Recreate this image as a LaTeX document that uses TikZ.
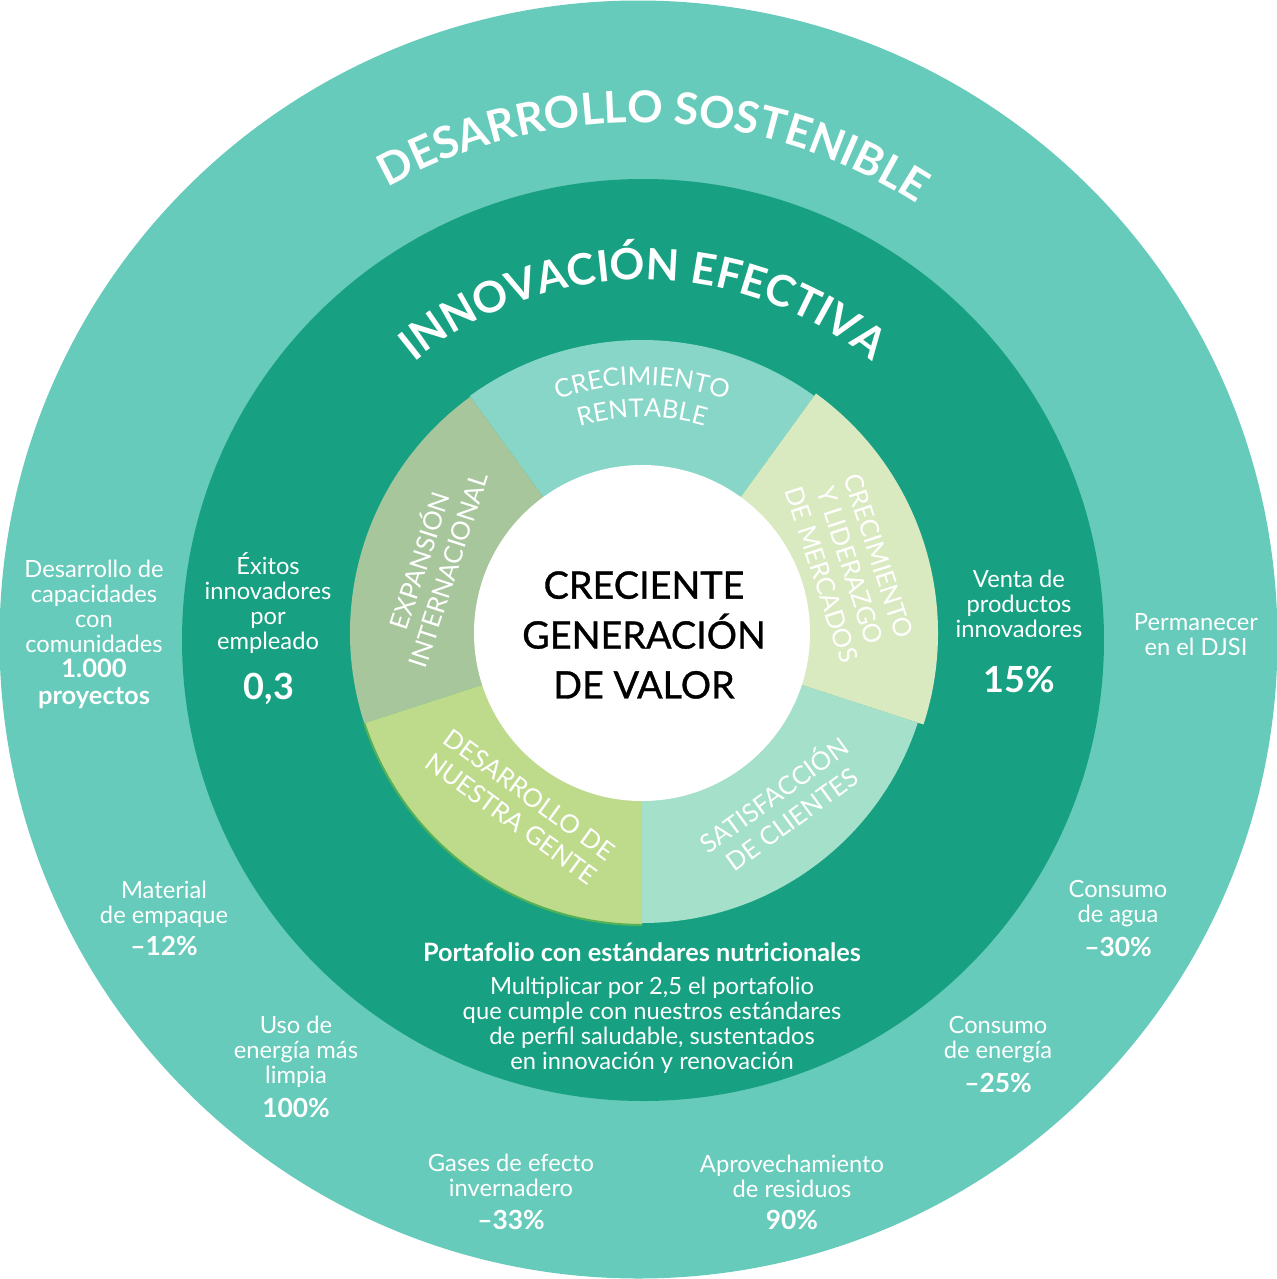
\documentclass[tikz,border=0pt]{standalone}
\usepackage{fontspec}
\setmainfont{Lato}
\newfontfamily\medfont{Lato}[FakeBold=0.9]
\usetikzlibrary{decorations.text}
\definecolor{outerc}{HTML}{66CBBA}
\definecolor{darkc}{HTML}{17A182}
\definecolor{rentc}{HTML}{87D6C8}
\definecolor{lidc}{HTML}{DAEAC0}
\definecolor{satc}{HTML}{A4E0CA}
\definecolor{desc}{HTML}{BEDB8C}
\definecolor{expc}{HTML}{A7C69C}
\definecolor{edgec}{HTML}{55B155}
\begin{document}
\begin{tikzpicture}[x=0.02cm,y=0.02cm,
  txt/.style={text=white,align=center,inner sep=0pt,font=\fontsize{13.5}{14.2}\selectfont},
  val/.style={text=white,align=center,inner sep=0pt,font=\bfseries\fontsize{15}{15.5}\selectfont},
  bigval/.style={text=white,align=center,inner sep=0pt,font=\bfseries\fontsize{20.5}{22}\selectfont},
  segtxt/.style={text=white,align=center,inner sep=0pt,font=\fontsize{14.5}{17}\selectfont}]
\useasboundingbox (0,0) rectangle (1277,-1279);
\coordinate (Co) at (638.5,-639.5);
\coordinate (Cd) at (643,-640);
\coordinate (Cr) at (642,-633);
% circles
\fill[outerc] (Co) circle[radius=639];
\fill[darkc] (Cd) circle[radius=461];
% ring wedges
\fill[rentc] (Cr) -- ([shift={(54:293)}]Cr) arc[start angle=54,end angle=126,radius=293] -- cycle;
\fill[expc] (Cr) -- ([shift={(126:292)}]Cr) arc[start angle=126,end angle=198,radius=292] -- cycle;
\fill[desc] (Cr) -- ([shift={(198:292)}]Cr) arc[start angle=198,end angle=270,radius=292] -- cycle;
\fill[satc] (Cr) -- ([shift={(270:290)}]Cr) arc[start angle=270,end angle=342,radius=290] -- cycle;
\fill[lidc] (Cr) -- ([shift={(-18:296)}]Cr) arc[start angle=-18,end angle=54,radius=296] -- cycle;
\draw[edgec,line width=1.2pt] ([shift={(198:292)}]Cr) arc[start angle=198,end angle=270,radius=292];
\fill[white] (Cr) circle[radius=168];
% center text
\node[align=center,inner sep=0pt,font=\medfont\fontsize{21.5}{28.4}\selectfont] (centro) at (644,-635) {CRECIENTE\\GENERACIÓN\\DE VALOR};
% arc titles
\path[decorate,decoration={text along path,text align=center,text color=white,
  text={|\bfseries\fontsize{25}{30}\selectfont|DESARROLLO SOSTENIBLE}}]
  ([shift={(148.2:517)}]Co) arc[start angle=148.2,end angle=28.2,radius=517];
\path[decorate,decoration={text along path,text align=center,text color=white,
  text={|\bfseries\fontsize{24.6}{28}\selectfont|INNOVACIÓN EFECTIVA}}]
  ([shift={(160:360)}]Cd) arc[start angle=160,end angle=20,radius=360];
% segment labels
\path[decorate,decoration={text along path,text align=center,text color=white,
  text={|\fontsize{14.5}{17}\selectfont|CRECIMIENTO}}]
  ([shift={(130:248)}]Cr) arc[start angle=130,end angle=50,radius=248];
\path[decorate,decoration={text along path,text align=center,text color=white,
  text={|\fontsize{14.5}{17}\selectfont|RENTABLE}}]
  ([shift={(130:216)}]Cr) arc[start angle=130,end angle=50,radius=216];
\node[segtxt,rotate=72] (exp) at ([shift={(162:221)}]Cr) {EXPANSIÓN\\INTERNACIONAL};
\node[segtxt,rotate=-72] (lid) at ([shift={(18:219)}]Cr) {CRECIMIENTO\\Y LIDERAZGO\\DE MERCADOS};
\node[segtxt,rotate=36] (sat) at ([shift={(-51:222)}]Cr) {SATISFACCIÓN\\DE CLIENTES};
\node[segtxt,rotate=-36] (des) at ([shift={(-125:212)}]Cr) {DESARROLLO DE\\NUESTRA GENTE};
% dark circle texts
\node[txt] (exi) at (268,-603) {Éxitos\\innovadores\\por\\empleado};
\node[bigval] (exiv) at (269,-689) {0,3};
\node[txt] (ven) at (1019,-604) {Venta de\\productos\\innovadores};
\node[bigval] (venv) at (1019,-679) {15\%};
\node[val,font=\bfseries\fontsize{14.4}{15}\selectfont] (port) at (642,-952) {Portafolio con estándares nutricionales};
\node[txt] (mult) at (652,-1025) {Multiplicar por 2,5 el portafolio\\que cumple con nuestros estándares\\de perfil saludable, sustentados\\en innovación y renovación};
% outer ring texts
\node[txt] (comu) at (94,-606) {Desarrollo de\\capacidades\\con\\comunidades};
\node[val,font=\bfseries\fontsize{14.5}{15.4}\selectfont] (comuv) at (94,-684) {1.000\\proyectos};
\node[txt] (djsi) at (1196,-635) {Permanecer\\en el DJSI};
\node[txt] (mat) at (164,-904) {Material\\de empaque};
\node[val] (matv) at (164,-946) {–12\%};
\node[txt] (uso) at (296,-1052) {Uso de\\energía más\\limpia};
\node[val] (usov) at (296,-1108) {100\%};
\node[txt] (gas) at (511,-1175) {Gases de efecto\\invernadero};
\node[val] (gasv) at (511,-1220) {–33\%};
\node[txt] (apr) at (792,-1176) {Aprovechamiento\\de residuos};
\node[val] (aprv) at (792,-1220) {90\%};
\node[txt] (ene) at (998,-1040) {Consumo\\de energía};
\node[val] (enev) at (998,-1083) {–25\%};
\node[txt] (agua) at (1118,-904) {Consumo\\de agua};
\node[val] (aguav) at (1118,-947) {–30\%};
\end{tikzpicture}
\end{document}
